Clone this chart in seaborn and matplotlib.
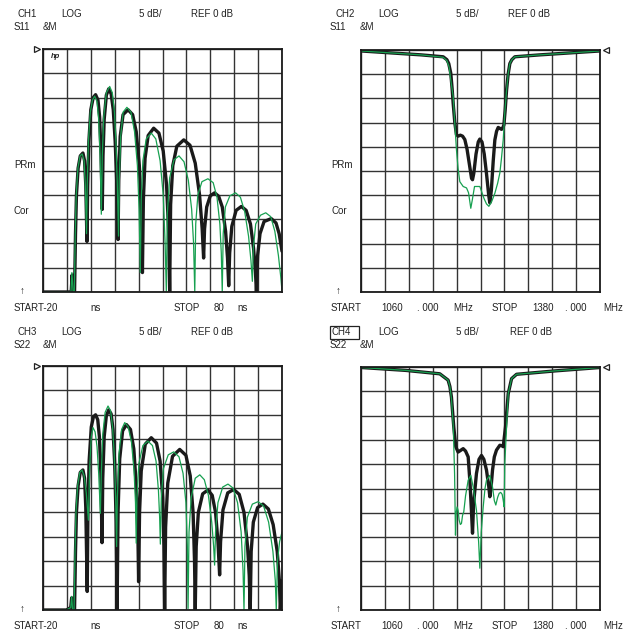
import matplotlib
matplotlib.use("Agg")
import matplotlib.pyplot as plt
import seaborn as sns
import pandas as pd
from matplotlib.patches import Rectangle

# ---------------- data (x, dB) ----------------
# CH1: S11 time domain (ns)
s11_time_black = [(-20,-50),(-8.2,-50),(-7.8,-46.5),(-7.4,-50),(-6.8,-50),(-6.4,-38),(-6.0,-30),(-5.3,-24.5),(-4.4,-22),(-3.3,-21.4),(-2.6,-23),(-2.1,-28),(-1.6,-39.6),
    (-1.3,-28),(-0.8,-19),(0.0,-12.5),(1.0,-10),(2.0,-9.4),(3.0,-10.5),(3.7,-14),(4.3,-22),(4.8,-33),
    (5.1,-22),(5.6,-14.5),(6.5,-9.5),(7.5,-8.2),(8.5,-9.2),(9.4,-12.5),(10.2,-19),(10.9,-28),(11.4,-39.2),
    (11.7,-27),(12.3,-18),(13.5,-13.5),(15.6,-12.5),(17.5,-13.5),(19.0,-17),(20.3,-24),(21.1,-33),(21.6,-46),
    (22.0,-31),(22.7,-22.5),(24.0,-17.8),(26.3,-16.3),(28.5,-17.3),(30.3,-21),(31.7,-28),(32.6,-38),(33.0,-50),
    (33.4,-32),(34.3,-24),(36.0,-20),(38.9,-18.7),(41.5,-19.8),(43.7,-23.5),(45.5,-30),(46.6,-37),(47.2,-43),
    (47.6,-37),(48.5,-32.5),(50.0,-30.2),(51.8,-29.6),(53.5,-30.3),(55.0,-32.5),(56.4,-37.5),(57.2,-43),(57.7,-48.7),
    (58.1,-42),(59.0,-36.5),(60.8,-33.2),(63.0,-32.4),(65.0,-33.2),(66.8,-36),(68.1,-41),(68.9,-46),(69.3,-50),
    (69.8,-42.5),(70.8,-38),(72.5,-35.5),(75.5,-34.9),(77.5,-35.8),(78.8,-38),(80.0,-41.6)]
s11_time_green = [(-20,-50),(-8.3,-50),(-7.9,-46),(-7.4,-50),(-6.9,-50),(-6.5,-38),(-6.1,-30),(-5.4,-24.5),(-4.5,-22),(-3.6,-21.6),(-2.8,-23),(-2.3,-28),(-1.8,-38),
    (-1.5,-28),(-1.0,-19),(-0.2,-13),(0.7,-10.5),(1.6,-9.7),(2.6,-10.8),(3.3,-14.5),(3.9,-22),(4.4,-34),
    (4.8,-22),(5.4,-14),(6.5,-9),(7.9,-7.7),(9.0,-9),(9.9,-13),(10.6,-20),(11.1,-28),(11.6,-38.5),
    (11.9,-27),(12.5,-18),(13.5,-13),(15.1,-12),(16.8,-13),(18.3,-17),(19.5,-24),(20.2,-33),(20.7,-46),
    (21.1,-31),(21.8,-23),(23.2,-18.5),(25.3,-17.3),(27.2,-18.5),(29.0,-23),(30.3,-30),(31.1,-40),(31.6,-50),
    (32.0,-34),(33.0,-26.5),(34.8,-22.8),(36.9,-22),(39.0,-23.2),(40.8,-27),(42.2,-33),(43.0,-40),(43.5,-50),
    (43.9,-36),(44.8,-30),(46.5,-27.3),(49.0,-26.7),(51.2,-27.5),(52.8,-30.5),(54.0,-36),(54.6,-42),(55.0,-50),
    (55.4,-38),(56.3,-32.5),(58.2,-30.2),(60.6,-29.6),(62.6,-30.5),(64.4,-33.5),(66.0,-38.5),(67.0,-43.5),(67.6,-47.8),
    (68.0,-41),(69.0,-36),(71.0,-34.2),(73.2,-33.7),(75.3,-34.5),(77.0,-37.5),(78.5,-42.5),(79.5,-47),(80.0,-49.8)]

# CH2: S11 frequency (MHz)
s11_freq_black = [(1060,-0.2),(1100,-0.6),(1140,-1.0),(1170,-1.4),(1175,-2.0),(1177.5,-2.8),(1180.2,-4.8),(1182,-8),(1183.4,-11),(1185.6,-15),(1187.8,-17.5),(1190,-17.8),(1193,-17.6),(1196,-17.8),(1199,-18.5),(1202,-20.5),(1205,-23.5),(1208,-26.5),(1209.3,-26.8),(1211,-25.5),(1214,-21.5),(1217,-19),(1219.1,-18.4),(1222,-19),(1225,-21.5),(1228,-25.5),(1231,-30),(1232.5,-31.6),(1234.5,-29),(1237,-23),(1239.2,-18.6),(1241.5,-16.8),(1243.7,-16),(1246,-16.2),(1248.2,-16.4),(1250,-16),(1251.3,-15.5),(1253,-12.5),(1254.9,-8.3),(1257,-5),(1259.3,-2.8),(1262,-2.0),(1266,-1.4),(1300,-1.0),(1340,-0.6),(1380,-0.2)]
s11_freq_green = [(1060,-0.2),(1100,-0.6),(1140,-1.0),(1170,-1.5),(1175,-2.2),(1178,-3.5),(1180,-6),(1183.4,-9.6),(1185.5,-15),(1187.8,-20.6),(1190,-24.5),(1192.3,-27.2),(1196.8,-28.2),(1201.3,-28.5),(1204,-29.5),(1207,-32.7),(1209,-31),(1212,-28.2),(1219.1,-28.2),(1224.5,-30.6),(1228,-31.8),(1231.2,-32.3),(1235,-31.3),(1239.2,-29.6),(1243,-27.5),(1245.9,-25.4),(1248,-22.5),(1250.4,-18.6),(1252.5,-13),(1254.9,-8.3),(1257,-5),(1259.3,-2.8),(1262,-2.0),(1266,-1.4),(1300,-1.0),(1340,-0.6),(1380,-0.2)]

# CH3: S22 time domain (ns)
s22_time_black = [(-20,-50),(-10.2,-50),(-8.4,-49.5),(-8.0,-47.5),(-7.6,-50),(-6.8,-50),(-6.4,-38),(-6.0,-30),(-5.3,-24.5),(-4.4,-21.8),(-3.3,-21.3),(-2.6,-23),(-2.1,-29),(-1.5,-46.2),
    (-1.2,-30),(-0.7,-19.5),(0.2,-12.5),(1.1,-10.4),(2.0,-10.0),(2.9,-11),(3.6,-14.5),(4.2,-22),(4.7,-36.2),
    (5.0,-23),(5.6,-14.5),(6.5,-10.2),(7.5,-9.0),(8.5,-9.8),(9.3,-13),(10.0,-20),(10.6,-32),(11.0,-50),
    (11.4,-30),(12.1,-19),(13.3,-13.3),(14.9,-12.0),(16.6,-13),(18.0,-17),(19.1,-25),(19.7,-34),(20.0,-44.2),
    (20.4,-30),(21.1,-21.5),(22.8,-16),(25.3,-14.7),(27.5,-15.8),(29.0,-19.5),(30.1,-27),(30.6,-37),(30.9,-50),
    (31.3,-33),(32.2,-24),(34.2,-18.5),(37.2,-17.1),(39.8,-18.3),(41.6,-22.5),(42.8,-30),(43.4,-40),(43.7,-50),
    (44.1,-37),(45.0,-30),(46.8,-26.2),(49.0,-25.4),(50.8,-26.5),(52.2,-30),(53.2,-36),(53.9,-42.8),
    (54.3,-36),(55.3,-29.5),(57.3,-26),(59.8,-25.3),(62.1,-26.3),(64.1,-30),(65.6,-37),(66.3,-43),(66.7,-50),
    (67.1,-38),(68.0,-32),(69.8,-29),(72.0,-28.3),(74.3,-29.3),(76.3,-32.5),(78.0,-38),(78.9,-44),(79.3,-50),(80.0,-44)]
s22_time_green = [(-20,-50),(-10.2,-50),(-8.4,-49.5),(-8.0,-47.2),(-7.6,-50),(-7.0,-50),(-6.6,-38),(-6.2,-30),(-5.5,-24.5),(-4.6,-21.8),(-3.7,-21.3),(-2.8,-22.5),(-1.9,-26),(-1.0,-31.6),
    (-0.5,-21),(0.2,-14.5),(0.9,-12.6),(1.8,-13.5),(2.6,-16.5),(3.3,-22),(4.0,-30.2),
    (4.4,-22),(5.0,-14),(6.0,-9.5),(7.2,-8.2),(8.3,-9.2),(9.1,-12.5),(9.8,-18),(10.4,-27),(10.8,-37),
    (11.1,-27),(11.8,-18),(12.9,-13),(14.2,-11.6),(15.6,-12.4),(17.0,-15.5),(18.1,-21.5),(18.7,-28),(19.0,-36.3),
    (19.3,-27),(20.1,-20),(21.8,-16.3),(23.9,-15.4),(25.8,-16.3),(27.3,-19.5),(28.3,-25.5),(28.8,-31),(29.1,-36.5),
    (29.5,-27),(30.4,-21),(32.4,-18.2),(34.7,-17.6),(36.9,-18.6),(38.6,-22),(39.8,-28),(40.4,-37),(40.7,-49.7),
    (41.1,-34),(42.0,-27),(43.7,-23),(45.6,-22.3),(47.5,-23.3),(49.2,-26.5),(50.6,-32),(51.4,-37),(51.8,-40.8),
    (52.2,-34),(53.2,-28),(55.2,-24.8),(57.4,-24.2),(59.5,-25),(61.4,-28),(62.9,-34),(63.7,-42),(64.1,-50),
    (64.5,-37),(65.5,-31),(67.6,-28.3),(70.0,-27.8),(72.3,-28.7),(74.4,-32),(76.2,-38),(77.2,-44),(77.6,-50),
    (78.1,-40),(79.0,-36),(80.0,-34)]

# CH4: S22 frequency (MHz)
s22_freq_black = [(1060,-0.1),(1120,-0.7),(1165.5,-1.4),(1176.6,-2.7),(1179,-4),(1181.1,-6.2),(1184.2,-12.3),(1186.9,-16.4),(1190,-17.5),(1193,-17.2),(1196.8,-16.8),(1200,-17.3),(1203.5,-18.5),(1206,-24),(1208,-30),(1209.3,-34.2),(1210.8,-28),(1214.6,-21.9),(1218,-19),(1221.3,-18.2),(1224.5,-19),(1228,-21.2),(1231,-24.5),(1232.5,-26.7),(1234,-25),(1236.1,-21.2),(1238.5,-18.5),(1241.4,-17.1),(1245.9,-16.1),(1248.5,-16.2),(1250.4,-16.4),(1253.5,-12.3),(1257.1,-5.5),(1261.6,-2.4),(1268.3,-1.5),(1320,-0.8),(1380,-0.1)]
s22_freq_green = [(1060,-0.1),(1120,-0.7),(1165.5,-1.4),(1176.6,-2.7),(1179,-4),(1181.1,-6.5),(1183.5,-12),(1185.3,-22),(1186.5,-34.6),(1187.5,-30),(1188.7,-28.8),(1190,-29.5),(1191.4,-31.5),(1193,-32.4),(1194.5,-32.2),(1196,-30.5),(1197.6,-29.8),(1200,-26.5),(1203.5,-23.3),(1207,-22.3),(1210.2,-24.7),(1214.6,-29.5),(1217.5,-36),(1219.1,-41.4),(1221,-34),(1223.6,-28.8),(1226,-25),(1228,-23.3),(1232.5,-22.3),(1236.1,-24.7),(1238.5,-27.5),(1240.5,-28.4),(1243,-26.8),(1245,-26),(1247,-25.8),(1249,-26.2),(1250.5,-27.5),(1251.7,-28.8),(1252.5,-20),(1254.9,-12.3),(1257.1,-5.5),(1261.6,-2.4),(1268.3,-1.5),(1320,-0.8),(1380,-0.1)]

time_range = (-20, 80)
freq_range = (1060, 1380)
db_range = (-50, 0)

# ---------------- figure ----------------
sns.set_style("white")
plt.rcParams["font.family"] = ["Liberation Sans", "DejaVu Sans"]

W, H = 626, 632
fig = plt.figure(figsize=(W / 100, H / 100), dpi=100)

def px_axes(l, t, r, b):
    return fig.add_axes([l / W, 1 - b / H, (r - l) / W, (b - t) / H])

def ftext(x, y, s, **kw):
    fig.text(x / W, 1 - y / H, s, ha="left", va="center", fontsize=7, color="#222222", **kw)

BLACK = "#1a1a1a"
GREEN = "#17a050"

panels = [
    (px_axes(43, 49, 282, 292), s11_time_black, s11_time_green, time_range, "left"),
    (px_axes(361, 50, 600, 292), s11_freq_black, s11_freq_green, freq_range, "right"),
    (px_axes(43, 366, 282, 610), s22_time_black, s22_time_green, time_range, "left"),
    (px_axes(361, 367, 600, 610), s22_freq_black, s22_freq_green, freq_range, "right"),
]

for ax, blk, grn, xr, mside in panels:
    x0, x1 = xr
    step = (x1 - x0) / 10
    ax.set_xlim(x0, x1)
    ax.set_ylim(*db_range)
    ax.set_xticks([x0 + i * step for i in range(11)])
    ax.set_yticks([db_range[0] + 5 * i for i in range(11)])
    ax.set_xticklabels([])
    ax.set_yticklabels([])
    ax.tick_params(length=0)
    ax.grid(True, color="#333333", linewidth=1.0)
    for sp in ax.spines.values():
        sp.set_color("#1a1a1a")
        sp.set_linewidth(1.3)
    dfb = pd.DataFrame(blk, columns=["x", "db"])
    dfg = pd.DataFrame(grn, columns=["x", "db"])
    sns.lineplot(data=dfb, x="x", y="db", ax=ax, color=BLACK, linewidth=2.4,
                 sort=False, estimator=None, solid_joinstyle="round", clip_on=True)
    sns.lineplot(data=dfg, x="x", y="db", ax=ax, color=GREEN, linewidth=0.9,
                 sort=False, estimator=None)
    ax.set_xlabel("")
    ax.set_ylabel("")
    # reference marker triangle
    if mside == "left":
        ax.plot([-0.025], [1.0], marker=">", markersize=5, markerfacecolor="white",
                markeredgecolor="#222222", markeredgewidth=0.9, transform=ax.transAxes, clip_on=False)
    else:
        ax.plot([1.025], [1.0], marker="<", markersize=5, markerfacecolor="white",
                markeredgecolor="#222222", markeredgewidth=0.9, transform=ax.transAxes, clip_on=False)

# hp logo
fig.text(51 / W, 1 - 57 / H, "hp", fontsize=5.5, style="italic", fontweight="bold",
         ha="left", va="center", color="#222222")

# ---------------- annotations ----------------
# Headers
ftext(18, 14, "CH1"); ftext(61, 14, "LOG"); ftext(139, 14, "5 dB/"); ftext(191, 14, "REF 0 dB")
ftext(14, 27, "S11"); ftext(43, 27, "&M")
ftext(335, 14, "CH2"); ftext(378, 14, "LOG"); ftext(456, 14, "5 dB/"); ftext(508, 14, "REF 0 dB")
ftext(330, 27, "S11"); ftext(360, 27, "&M")
ftext(17, 332, "CH3"); ftext(61, 332, "LOG"); ftext(139, 332, "5 dB/"); ftext(191, 332, "REF 0 dB")
ftext(14, 345, "S22"); ftext(43, 345, "&M")
ftext(332, 332, "CH4"); ftext(378, 332, "LOG"); ftext(456, 332, "5 dB/"); ftext(510, 332, "REF 0 dB")
ftext(330, 345, "S22"); ftext(360, 345, "&M")
fig.patches.append(Rectangle((330 / W, 1 - 339 / H), 29 / W, 13 / H, transform=fig.transFigure,
                             fill=False, edgecolor="#222222", linewidth=0.9))

# Side labels
for xx in (14, 331):
    ftext(xx, 165, "PRm")
    ftext(xx, 211, "Cor")

# Footers
for yy, ay in ((308, 291), (626, 609)):
    ftext(20, ay, "↑")
    ftext(14, yy, "START-20"); ftext(90, yy, "ns"); ftext(174, yy, "STOP"); ftext(214, yy, "80"); ftext(237, yy, "ns")
    ftext(336, ay, "↑")
    ftext(331, yy, "START"); ftext(381, yy, "1060"); ftext(417, yy, ". 000"); ftext(453, yy, "MHz")
    ftext(492, yy, "STOP"); ftext(532, yy, "1380"); ftext(565, yy, ". 000"); ftext(603, yy, "MHz")

fig.savefig("out.png", dpi=100, facecolor="white")
